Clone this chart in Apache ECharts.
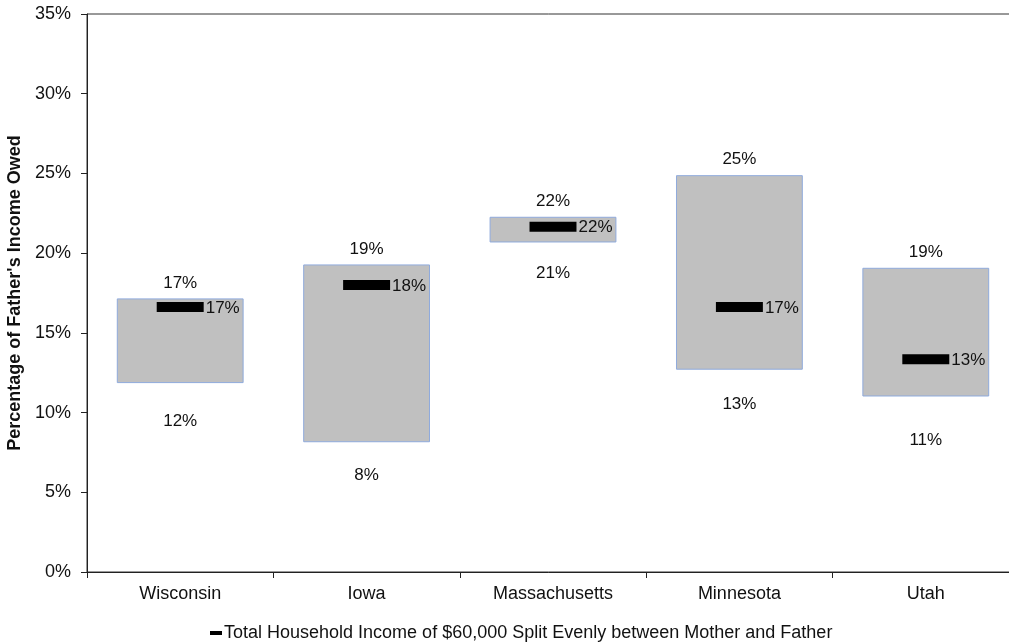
<!DOCTYPE html>
<html>
<head>
<meta charset="utf-8">
<script src="https://cdn.jsdelivr.net/npm/echarts@6/dist/echarts.min.js"></script>
<style>
  html, body { margin: 0; padding: 0; background: #fff; overflow: hidden; }
  #chart { width: 1009px; height: 642px; }
</style>
</head>
<body>
<div id="chart"></div>
<script>
// States compared, with the range of the father's share (low / high)
// and the value for a $60,000 household split evenly.
const categories = ['Wisconsin', 'Iowa', 'Massachusetts', 'Minnesota', 'Utah'];
const highValues = [17.13, 19.26, 22.25, 24.86, 19.05];
const lowValues = [11.88, 8.17, 20.70, 12.72, 11.04];
const evenSplitValues = [16.62, 18.0, 21.66, 16.62, 13.34];
const yTickStep = 5;
const yMax = 35;

// Gap in pixels between the bottom of each box and its low-value label
const lowLabelGap = [39, 34, 31, 35, 44];

const FONT = '"Liberation Sans", Arial, sans-serif';
const pct = v => Math.round(v) + '%';
const seriesName = 'Total Household Income of $60,000 Split Evenly between Mother and Father';

const chart = echarts.init(document.getElementById('chart'), null, { renderer: 'canvas' });

const rangeData = categories.map((c, i) => [i, lowValues[i], highValues[i]]);
const splitData = categories.map((c, i) => [i, evenSplitValues[i]]);

chart.setOption({
  animation: false,
  backgroundColor: '#fff',
  textStyle: { fontFamily: FONT },
  grid: {
    left: 87, top: 14, width: 932, height: 558,
    outerBoundsMode: 'none',
    containLabel: false,
    show: true, borderColor: '#333', borderWidth: 1, backgroundColor: 'transparent'
  },
  legend: {
    data: [{ name: seriesName, icon: 'rect', itemStyle: { color: '#000' } }],
    left: 205, top: 619,
    itemWidth: 12, itemHeight: 4,
    textStyle: { fontFamily: FONT, fontSize: 18, color: '#111', padding: [0, 0, 0, -3] },
    selectedMode: false
  },
  xAxis: {
    type: 'category',
    data: categories,
    boundaryGap: true,
    axisLine: { lineStyle: { color: '#222', width: 1 } },
    axisTick: { show: true, length: 6, lineStyle: { color: '#222' } },
    axisLabel: { fontFamily: FONT, fontSize: 18, color: '#111', margin: 13 },
    splitLine: { show: false }
  },
  yAxis: {
    type: 'value',
    min: 0, max: yMax, interval: yTickStep,
    name: "Percentage of Father's Income Owed",
    nameLocation: 'middle',
    nameGap: 56,
    nameTextStyle: { fontFamily: FONT, fontSize: 18, fontWeight: 'bold', color: '#111' },
    axisLine: { show: true, lineStyle: { color: '#222', width: 1 } },
    axisTick: { show: true, length: 6, lineStyle: { color: '#222' } },
    axisLabel: { fontFamily: FONT, fontSize: 18, color: '#111', margin: 16, formatter: '{value}%' },
    splitLine: { show: false }
  },
  series: [
    {
      type: 'custom',
      name: 'range',
      data: rangeData,
      encode: { x: 0, y: [1, 2] },
      z: 2,
      renderItem: function (params, api) {
        const i = api.value(0);
        const lo = api.coord([i, api.value(1)]);
        const hi = api.coord([i, api.value(2)]);
        const band = api.size([1, 0])[0];
        const w = band * 0.675;
        return {
          type: 'group',
          children: [
            {
              type: 'rect',
              shape: { x: lo[0] - w / 2, y: hi[1], width: w, height: lo[1] - hi[1] },
              style: { fill: '#c0c0c0', stroke: '#8faadc', lineWidth: 1 }
            },
            {
              type: 'text',
              style: {
                x: hi[0], y: hi[1] - 16, text: pct(api.value(2)),
                align: 'center', verticalAlign: 'middle',
                font: '17px ' + FONT, fill: '#111'
              }
            },
            {
              type: 'text',
              style: {
                x: lo[0], y: lo[1] + lowLabelGap[params.dataIndex], text: pct(api.value(1)),
                align: 'center', verticalAlign: 'middle',
                font: '17px ' + FONT, fill: '#111'
              }
            }
          ]
        };
      }
    },
    {
      type: 'custom',
      name: seriesName,
      data: splitData,
      encode: { x: 0, y: 1 },
      z: 3,
      itemStyle: { color: '#000' },
      renderItem: function (params, api) {
        const i = api.value(0);
        const p = api.coord([i, api.value(1)]);
        const band = api.size([1, 0])[0];
        const w = band * 0.252;
        const h = 10;
        return {
          type: 'group',
          children: [
            {
              type: 'rect',
              shape: { x: p[0] - w / 2, y: p[1] - h / 2, width: w, height: h },
              style: { fill: '#000' }
            },
            {
              type: 'text',
              style: {
                x: p[0] + w / 2 + 2, y: p[1] + 1, text: pct(api.value(1)),
                align: 'left', verticalAlign: 'middle',
                font: '17px ' + FONT, fill: '#111'
              }
            }
          ]
        };
      }
    }
  ]
});
</script>
</body>
</html>
